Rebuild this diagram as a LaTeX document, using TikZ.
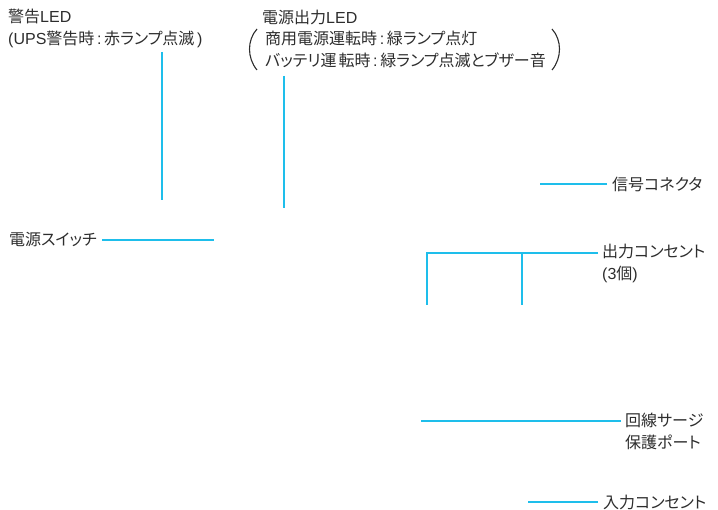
\documentclass[tikz,border=0pt]{standalone}
\usepackage{fontspec}
\setmainfont{Noto Sans CJK JP}[RawFeature=+palt]
\newfontfamily\lat{Liberation Sans}
\usepackage{tikz}
\definecolor{leadblue}{RGB}{30,190,235}
\definecolor{labelgray}{RGB}{45,45,45}
\newcommand{\colsep}{{\lat\,:\,}}
\tikzset{
	lead/.style={draw=leadblue, line width=2pt},
	brace/.style={draw=labelgray, line width=1.1pt},
	callout/.style={anchor=west, inner sep=0pt, text=labelgray, font=\fontsize{16}{22}\selectfont, align=left}
}

\begin{document}
\begin{tikzpicture}[x=1pt, y=-1pt]
	\useasboundingbox (0, 0) rectangle (718, 510);
	% labels
	\node[callout] (warnled) at (8, 28) {警告{\lat LED}\\{\lat(UPS}警告時\colsep 赤ランプ点滅{\lat\,)}};
	\node[callout] (pwrtitle) at (262, 17) {電源出力{\lat LED}};
	\node[callout] (pwrled) at (265, 49) {商用電源運転時\colsep 緑ランプ点灯\\バッテリ運\hspace{2pt}転時\colsep 緑ランプ点滅とブザー音};
	\node[callout] (switch) at (9, 240) {電源スイッチ};
	\node[callout] (signal) at (612, 184) {信号コネクタ};
	\node[callout] (outlet) at (602, 263) {出力コンセント\\{\lat(3}個{\lat)}};
	\node[callout] (surge) at (625, 431) {回線サージ\\保護ポート};
	\node[callout] (inlet) at (603, 502) {入力コンセント};
	% brackets round the two lines
	\draw[brace] (257, 29) .. controls (247, 40) and (247, 58) .. (257, 70);
	\draw[brace] (552, 29) .. controls (562, 40) and (562, 58) .. (552, 70);
	% free ends
	\coordinate (warnend) at (162, 200);
	\coordinate (pwrend) at (284, 208);
	\coordinate (switchend) at (214, 240);
	\coordinate (signalend) at (540, 184);
	\coordinate (outletA) at (427, 305);
	\coordinate (outletB) at (522, 305);
	\coordinate (surgeend) at (421, 421);
	\coordinate (inletend) at (528, 502);
	% leader lines
	\draw[lead] (162, 52) -- (warnend);
	\draw[lead] (284, 76) -- (pwrend);
	\draw[lead] (switch.east) ++(5, 0) -- (switchend);
	\draw[lead] (signal.west) ++(-5, 0) -- (signalend);
	\draw[lead] (598, 253) -| (outletA);
	\draw[lead] (522, 253) -- (outletB);
	\draw[lead] (621, 421) -- (surgeend);
	\draw[lead] (inlet.west) ++(-5, 0) -- (inletend);
\end{tikzpicture}
\end{document}
